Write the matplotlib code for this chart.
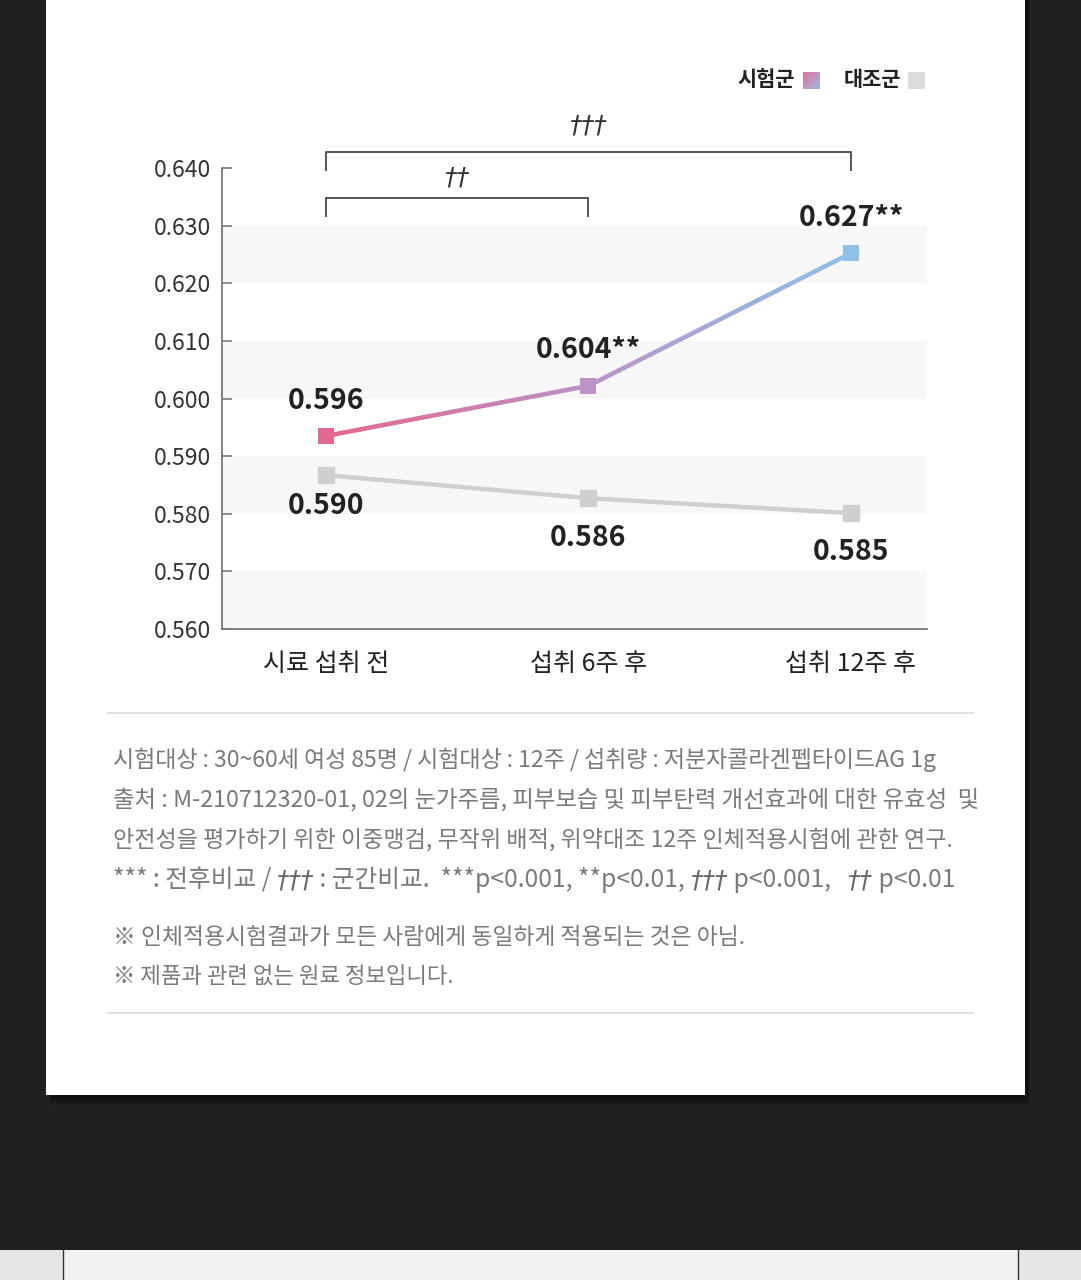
import numpy as np
import matplotlib
matplotlib.use('Agg')
import matplotlib.pyplot as plt
from matplotlib.patches import Rectangle
from matplotlib.lines import Line2D
from matplotlib.collections import LineCollection
from matplotlib.colors import LinearSegmentedColormap

plt.rcParams['font.family'] = ['Noto Sans CJK KR', 'DejaVu Sans']

# ---------------- data ----------------
categories = ['시료 섭취 전', '섭취 6주 후', '섭취 12주 후']
test_values = [0.5935, 0.6022, 0.6252]
control_values = [0.5867, 0.5827, 0.5801]
test_labels = ['0.596', '0.604**', '0.627**']
control_labels = ['0.590', '0.586', '0.585']
yticks = [0.560, 0.570, 0.580, 0.590, 0.600, 0.610, 0.620, 0.630, 0.640]
legend_names = ['시험군', '대조군']
bracket_marks = ['††', '†††']
footnotes = [
    '시험대상 : 30~60세 여성 85명 / 시험대상 : 12주 / 섭취량 : 저분자콜라겐펩타이드AG 1g',
    '출처 : M-210712320-01, 02의 눈가주름, 피부보습 및 피부탄력 개선효과에 대한 유효성  및',
    '안전성을 평가하기 위한 이중맹검, 무작위 배적, 위약대조 12주 인체적용시험에 관한 연구.',
]
# last footnote line as (text, is_dagger) pieces
footnote_pieces = [
    ('*** : 전후비교 / ', False), ('†††', True), (' : 군간비교.  ***p<0.001, **p<0.01, ', False),
    ('†††', True), (' p<0.001,   ', False), ('††', True), (' p<0.01', False),
]
notes = [
    '※ 인체적용시험결과가 모든 사람에게 동일하게 적용되는 것은 아님.',
    '※ 제품과 관련 없는 원료 정보입니다.',
]

W, H = 1081, 1280
def fx(x): return x / W
def fy(y): return 1 - y / H

fig = plt.figure(figsize=(W / 100, H / 100), dpi=100, facecolor='#1f2022')

# card shadow + card
for i, a in enumerate([0.10, 0.12, 0.15, 0.2]):
    d = 10 - 2 * i
    fig.add_artist(Rectangle((fx(46 + 4), fy(1095 + d)), fx(1025 - 46), 1, transform=fig.transFigure,
                             facecolor='black', alpha=a, lw=0, zorder=-12))
fig.add_artist(Rectangle((fx(46), fy(1095)), fx(1025 - 46), 1, transform=fig.transFigure,
                         facecolor='white', edgecolor='none', zorder=-10))
# bottom strip
fig.add_artist(Rectangle((0, 0), 1, fy(1250), transform=fig.transFigure,
                         facecolor='#e6e6e6', lw=0, zorder=-10))
fig.add_artist(Rectangle((fx(63), 0), fx(1018 - 63), fy(1250), transform=fig.transFigure,
                         facecolor='#f2f2f2', lw=0, zorder=-9))
for xx in [63, 1018]:
    fig.add_artist(Line2D([fx(xx), fx(xx)], [0, fy(1250)], transform=fig.transFigure,
                          color='#333333', lw=1.0, zorder=-8))

# ---------------- main axes ----------------
ax = fig.add_axes([fx(222), fy(629), fx(927 - 222), (629 - 168) / H])
ax.set_facecolor('none')
ax.set_ylim(0.560, 0.640)
ax.set_xlim(-0.396, 2.29)

for lo in [0.560, 0.580, 0.600, 0.620]:
    ax.axhspan(lo, lo + 0.010, color='#f7f7f7', lw=0, zorder=0)

for s in ['top', 'right']:
    ax.spines[s].set_visible(False)
for s in ['left', 'bottom']:
    ax.spines[s].set_color('#7a7a7a')
    ax.spines[s].set_linewidth(1.3)

ax.set_yticks(yticks)
ax.set_yticklabels([f'{v:.3f}' for v in yticks])
ax.tick_params(axis='y', direction='in', length=7, width=1.2, color='#7a7a7a',
               labelsize=16.5, labelcolor='#333333', pad=8)
x = np.arange(len(categories))
ax.set_xticks(x)
ax.set_xticklabels(categories)
ax.tick_params(axis='x', length=0, labelsize=18, labelcolor='#222222', pad=16)

# control line
ax.plot(x, control_values, color='#cfcfcf', lw=3.2, marker='s', ms=11.5, zorder=4,
        solid_capstyle='round')

# test line with gradient
cmap = LinearSegmentedColormap.from_list('g', ['#e3688f', '#bb93c6', '#8ec1ea'])
segs, cols = [], []
n = 60
for i in range(len(x) - 1):
    t = np.linspace(0, 1, n + 1)
    xs = x[i] + (x[i + 1] - x[i]) * t
    ys = test_values[i] + (test_values[i + 1] - test_values[i]) * t
    for k in range(n):
        segs.append([(xs[k], ys[k]), (xs[k + 1], ys[k + 1])])
        cols.append(cmap((xs[k] + xs[k + 1]) / 2 / (len(x) - 1)))
ax.add_collection(LineCollection(segs, colors=cols, linewidths=3.2, capstyle='round', zorder=5))
ax.scatter(x, test_values, marker='s', s=135, c=[cmap(v / (len(x) - 1)) for v in x],
           zorder=6, linewidths=0)

# value labels
for i, (v, lab) in enumerate(zip(test_values, test_labels)):
    ax.annotate(lab, xy=(i, v), xytext=(0, 25.5), textcoords='offset points', ha='center',
                va='center', fontsize=20.5, fontweight='bold', color='#222222', zorder=7)
ctrl_off = [-22.3, -28.8, -28.0]
for i, (v, lab) in enumerate(zip(control_values, control_labels)):
    ax.annotate(lab, xy=(i, v), xytext=(0, ctrl_off[i]), textcoords='offset points', ha='center',
                va='center', fontsize=20.5, fontweight='bold', color='#222222', zorder=7)

# significance brackets
ax.plot([0, 0, 2, 2], [0.6397, 0.64278, 0.64278, 0.6397], color='#555555', lw=1.4, clip_on=False)
ax.plot([0, 0, 1, 1], [0.6317, 0.6348, 0.6348, 0.6317], color='#555555', lw=1.4, clip_on=False)
ax.text(1, 0.6474, bracket_marks[1], ha='center', va='center', fontsize=18, style='italic',
        color='#333333', family=['DejaVu Sans'], clip_on=False)
ax.text(0.5, 0.6383, bracket_marks[0], ha='center', va='center', fontsize=18, style='italic',
        color='#333333', family=['DejaVu Sans'], clip_on=False)

# ---------------- legend ----------------
fig.text(fx(795), fy(80), legend_names[0], ha='right', va='center', fontsize=15,
         fontweight='bold', color='#222222')
fig.text(fx(901), fy(80), legend_names[1], ha='right', va='center', fontsize=15,
         fontweight='bold', color='#222222')
lax = fig.add_axes([fx(803), fy(89), fx(17), 17 / H])
gx, gy = np.meshgrid(np.linspace(0, 1, 20), np.linspace(0, 1, 20))
lcm = LinearSegmentedColormap.from_list('l', ['#e07499', '#9fb6e6'])
lax.imshow((gx + gy) / 2, cmap=lcm, aspect='auto')
lax.axis('off')
fig.add_artist(Rectangle((fx(908), fy(89)), fx(17), 17 / H, transform=fig.transFigure,
                         facecolor='#dcdcdc', lw=0))

# ---------------- footnotes ----------------
for yy in [713, 1013]:
    fig.add_artist(Line2D([fx(108), fx(973)], [fy(yy), fy(yy)], transform=fig.transFigure,
                          color='#dddddd', lw=1.3))

renderer = fig.canvas.get_renderer()
FOOT_COLOR = '#7a7a7a'
def fit_text(s, xpx, ypx, target_right, base=15):
    t = fig.text(fx(xpx), fy(ypx), s, ha='left', va='center', fontsize=base, color=FOOT_COLOR)
    w = t.get_window_extent(renderer).width
    t.set_fontsize(base * (target_right - xpx) / w)
    return t

rights = [937, 978, 950]
for s, yy, r in zip(footnotes, [760, 800, 840], rights):
    fit_text(s, 113, yy, r)

# mixed-font line
def piece_widths(size):
    ws = []
    for s, dag in footnote_pieces:
        kw = dict(family=['DejaVu Sans'], style='italic') if dag else {}
        t = fig.text(0, 0, s, fontsize=size, **kw)
        ws.append(t.get_window_extent(renderer).width)
        t.remove()
    return ws
base = 15
ws = piece_widths(base)
size = base * (955 - 113) / sum(ws)
ws = [w * size / base for w in ws]
cx = 113
for (s, dag), w in zip(footnote_pieces, ws):
    kw = dict(family=['DejaVu Sans'], style='italic', color='#666666') if dag else dict(color=FOOT_COLOR)
    fig.text(fx(cx), fy(880), s, ha='left', va='center', fontsize=size, **kw)
    cx += w

for s, yy, r in zip(notes, [938, 977], [743, 453]):
    fit_text(s, 113, yy, r)

fig.savefig('out.png', dpi=100, facecolor=fig.get_facecolor())
